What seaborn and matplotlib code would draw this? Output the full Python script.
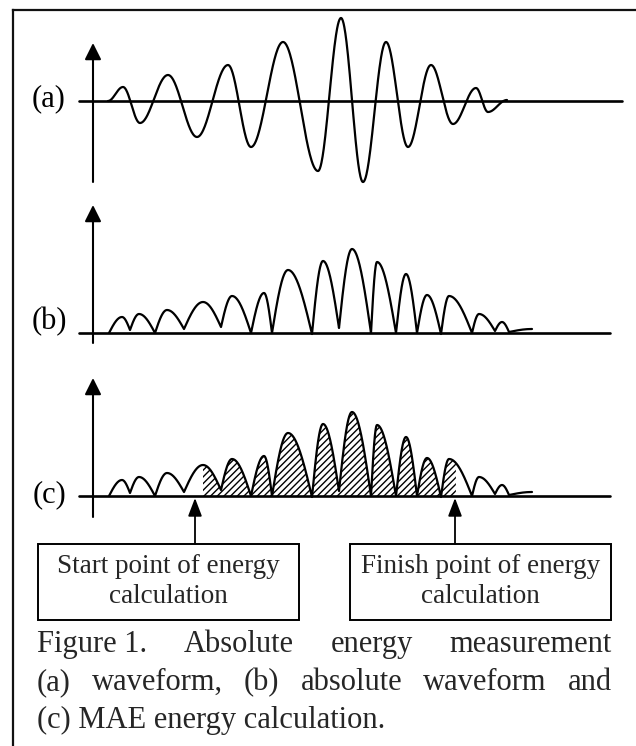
import numpy as np
import pandas as pd
import seaborn as sns
import matplotlib.pyplot as plt
from matplotlib.patches import Rectangle

sns.set_theme(style="white")
plt.rcParams["font.family"] = ["Liberation Serif", "DejaVu Serif"]
plt.rcParams["hatch.linewidth"] = 1.0
plt.rcParams["hatch.color"] = "black"

# ---- waveform key points (position, amplitude above the zero line) ----
wave_x = [108, 123, 140, 168, 197, 228, 251, 283, 318, 341, 363, 386, 408, 431, 453, 476, 488, 507]
wave_h = [0, 14, -22, 26, -36, 36, -46, 59, -70, 83, -81, 59, -46, 36, -23, 13, -11, 1]

# absolute waveform: alternating valleys / peaks
abs_x = [109, 122, 130, 139, 155, 167, 184, 203, 221, 232, 251, 264, 272, 288, 312, 323,
         339, 352, 371, 377, 396, 406, 417, 427, 441, 449, 472, 479, 495, 502, 509, 532]
abs_h = [0, 16, 3, 19, 0, 23, 4, 31, 6, 37, 0, 40, 0, 63, -1, 72,
         5, 84, 0, 71, 0, 59, 0, 38, -1, 37, 0, 19, 2, 11, 1, 4]

# energy integration window
energy_start = 203
energy_end = 456

panel_labels = ["(a)", "(b)", "(c)"]
box_texts = [["Start point of energy", "calculation"],
             ["Finish point of energy", "calculation"]]
caption_words = [["Figure 1.", "Absolute", "energy", "measurement"],
                 ["(a)", "waveform,", "(b)", "absolute", "waveform", "and"],
                 ["(c) MAE energy calculation."]]

# ---- layout (pixel space) ----
W, H = 636, 746
baselines = [101, 333, 496]
axis_ends = [622, 610, 610]
axis_tops = [43, 205, 378]
axis_bottoms = [182, 343, 517]
vaxis_x = 93
haxis_x0 = 79
label_x = 49
label_y = [99, 322, 495]


def build_curve(xs, hs, cusp=False, n=60):
    X, Y = [], []
    for i in range(len(xs) - 1):
        t = np.linspace(0, 1, n, endpoint=False)
        x0, x1, h0, h1 = xs[i], xs[i + 1], hs[i], hs[i + 1]
        if cusp:
            if h1 > h0:
                e = np.sin(np.pi / 2 * t)
            else:
                e = 1 - np.cos(np.pi / 2 * t)
        else:
            e = (1 - np.cos(np.pi * t)) / 2
        X.append(x0 + (x1 - x0) * t)
        Y.append(h0 + (h1 - h0) * e)
    X.append([xs[-1]])
    Y.append([hs[-1]])
    return np.concatenate(X), np.concatenate(Y)


fig = plt.figure(figsize=(W / 100, H / 100), dpi=100)
ax = fig.add_axes([0, 0, 1, 1])
ax.set_xlim(0, W)
ax.set_ylim(H, 0)
ax.axis("off")

# outer frame
ax.plot([13, 13], [H, 10], color="#111111", lw=1.6, solid_capstyle="projecting")
ax.plot([13, W], [10, 10], color="#111111", lw=1.6, solid_capstyle="projecting")

curves = [build_curve(wave_x, wave_h),
          build_curve(abs_x, abs_h, cusp=True),
          build_curve(abs_x, abs_h, cusp=True)]

for i, (cx, ch) in enumerate(curves):
    base = baselines[i]
    # horizontal zero line
    ax.plot([haxis_x0, axis_ends[i]], [base, base], color="black", lw=1.9)
    # vertical axis with arrow head
    ax.annotate("", xy=(vaxis_x, axis_tops[i]), xytext=(vaxis_x, axis_bottoms[i]),
                arrowprops=dict(arrowstyle="-|>,head_length=1.0,head_width=0.5",
                                mutation_scale=10, color="black", lw=1.5,
                                shrinkA=0, shrinkB=0))
    df = pd.DataFrame({"x": cx, "y": base - ch})
    if i == 2:
        m = (cx >= energy_start) & (cx <= energy_end)
        ax.fill_between(cx[m], base - np.clip(ch[m], 0, None), base,
                        facecolor="white", edgecolor="black", hatch="/////",
                        linewidth=0, zorder=1)
    sns.lineplot(data=df, x="x", y="y", ax=ax, color="black", linewidth=1.6,
                 sort=False, estimator=None, zorder=3)
    ax.text(label_x, label_y[i], panel_labels[i], fontsize=22, ha="center",
            va="center", color="black")

# start / finish markers and their boxes
marker_x = [195, 455]
box_left = [38, 350]
box_w = 261
box_top, box_bottom = 544, 620
for k in range(2):
    ax.annotate("", xy=(marker_x[k], baselines[2] + 2), xytext=(marker_x[k], box_top),
                arrowprops=dict(arrowstyle="-|>,head_length=1.1,head_width=0.42",
                                mutation_scale=10, color="black", lw=1.3,
                                shrinkA=0, shrinkB=0))
    ax.add_patch(Rectangle((box_left[k], box_top), box_w, box_bottom - box_top,
                           facecolor="white", edgecolor="black", lw=1.4))
    cxm = box_left[k] + box_w / 2
    ax.text(cxm, 573, box_texts[k][0], fontsize=19.5, ha="center", va="baseline")
    ax.text(cxm, 603, box_texts[k][1], fontsize=19.5, ha="center", va="baseline")

# justified caption
renderer = fig.canvas.get_renderer()
cap_left, cap_right = 37, 612
cap_base = [652, 690, 728]
for li, words in enumerate(caption_words):
    if len(words) == 1:
        ax.text(cap_left, cap_base[li], words[0], fontsize=22, ha="left", va="baseline")
        continue
    arts = [ax.text(0, cap_base[li], w, fontsize=22, ha="left", va="baseline") for w in words]
    widths = [a.get_window_extent(renderer).width for a in arts]
    gap = (cap_right - cap_left - sum(widths)) / (len(words) - 1)
    x = cap_left
    for a, w in zip(arts, widths):
        a.set_x(x)
        x += w + gap

fig.savefig("out.png", dpi=100, facecolor="white")
